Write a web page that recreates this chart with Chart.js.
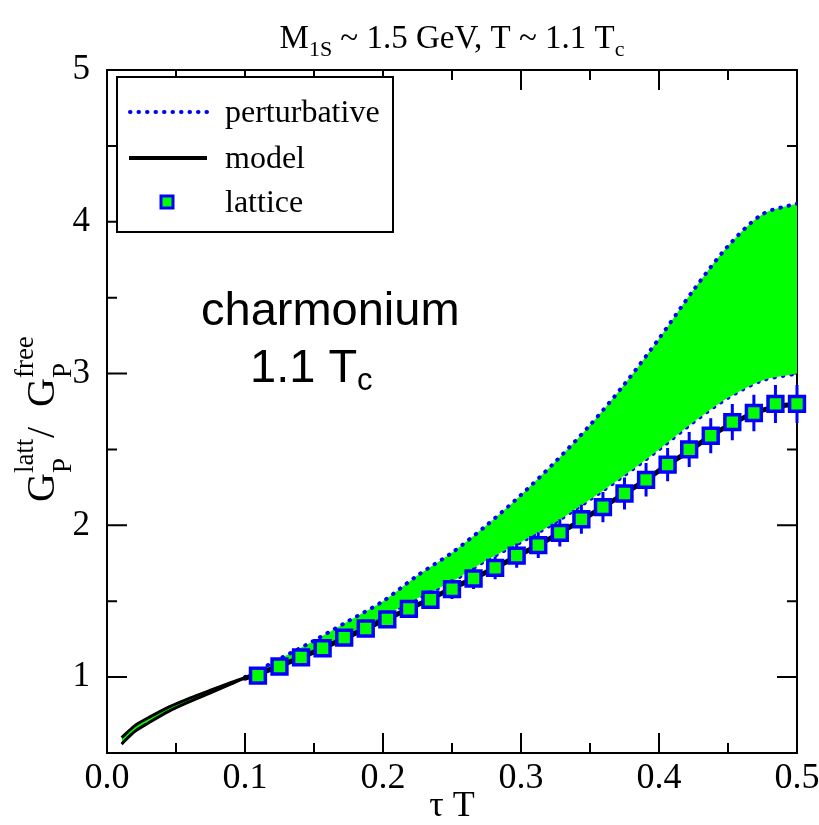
<!DOCTYPE html>
<html>
<head>
<meta charset="utf-8">
<script src="https://cdn.jsdelivr.net/npm/chart.js@4.4.1/dist/chart.umd.min.js"></script>
<style>
  html, body { margin: 0; padding: 0; background: #fff; }
</style>
</head>
<body>
<canvas id="myChart" width="819" height="825"></canvas>
<script>
// perturbative band (upper / lower edge)
const pertTau = [0.0106, 0.02, 0.03, 0.045, 0.06, 0.075, 0.09, 0.1, 0.125, 0.15, 0.175, 0.2, 0.225, 0.25,
                 0.275, 0.3, 0.325, 0.35, 0.375, 0.4, 0.425, 0.45, 0.475, 0.5];
const pertUpper = [0.601, 0.679, 0.732, 0.804, 0.861, 0.9135, 0.965, 1.0, 1.12, 1.24, 1.37, 1.50, 1.67, 1.82,
                   2.00, 2.20, 2.42, 2.66, 2.93, 3.23, 3.55, 3.84, 4.05, 4.12];
const pertLower = [0.559, 0.641, 0.698, 0.776, 0.839, 0.8965, 0.955, 0.99, 1.085, 1.175, 1.285, 1.40, 1.52, 1.63,
                   1.77, 1.89, 2.02, 2.17, 2.33, 2.50, 2.68, 2.84, 2.955, 3.00];

// lattice data
const latTau = [0.109375, 0.125, 0.140625, 0.15625, 0.171875, 0.1875, 0.203125, 0.21875, 0.234375, 0.25,
                0.265625, 0.28125, 0.296875, 0.3125, 0.328125, 0.34375, 0.359375, 0.375, 0.390625, 0.40625,
                0.421875, 0.4375, 0.453125, 0.46875, 0.484375, 0.5];
const latVal = [1.01, 1.07, 1.13, 1.19, 1.26, 1.32, 1.38, 1.45, 1.51, 1.58, 1.65, 1.72, 1.80, 1.87, 1.95,
                2.04, 2.12, 2.21, 2.30, 2.40, 2.50, 2.59, 2.68, 2.74, 2.80, 2.80];
const latErr = [0.02, 0.025, 0.03, 0.035, 0.04, 0.045, 0.05, 0.055, 0.06, 0.065, 0.07, 0.075, 0.08, 0.085,
                0.09, 0.095, 0.10, 0.105, 0.11, 0.11, 0.115, 0.115, 0.12, 0.12, 0.125, 0.125];

// model curve (small tau part is a thin band)
const modelUpTau = [0.0106, 0.02, 0.03, 0.045, 0.06, 0.075, 0.09, 0.1];
const modelUp = [0.601, 0.679, 0.732, 0.804, 0.861, 0.9135, 0.965, 0.997];
const modelTau = [0.0106, 0.02, 0.03, 0.045, 0.06, 0.075, 0.09, 0.1].concat(latTau);
const modelVal = [0.559, 0.641, 0.698, 0.776, 0.839, 0.8965, 0.955, 0.993,
                  1.02, 1.075, 1.13, 1.19, 1.255, 1.32, 1.385, 1.45, 1.515, 1.585, 1.65, 1.72, 1.795, 1.87,
                  1.95, 2.035, 2.12, 2.21, 2.30, 2.40, 2.49, 2.59, 2.67, 2.74, 2.78, 2.80];

const xTicks = [0, 0.1, 0.2, 0.3, 0.4, 0.5];
const yTicks = [1, 2, 3, 4, 5];

const pts = (xs, ys) => xs.map((x, i) => ({ x: x, y: ys[i] }));

const BLUE = '#0000ff';
const GREEN = '#00ff00';
const SERIF = '"Liberation Serif", "DejaVu Serif", serif';
const SANS = '"Liberation Sans", Arial, sans-serif';
const DOTS = [0.5, 8];

// draws text made of pieces: [text, size, dy, noAdvance]
function drawPieces(ctx, pieces, x, y, family) {
  pieces.forEach(p => {
    ctx.font = p[1] + 'px ' + family;
    ctx.fillText(p[0], x, y + p[2]);
    if (!p[3]) x += ctx.measureText(p[0]).width;
  });
  return x;
}
function piecesWidth(ctx, pieces, family) {
  let w = 0;
  pieces.forEach(p => {
    ctx.font = p[1] + 'px ' + family;
    if (!p[3]) w += ctx.measureText(p[0]).width;
  });
  return w;
}

const framePlugin = {
  id: 'frame',
  beforeDatasetsDraw(chart) {
    const ctx = chart.ctx, a = chart.chartArea;
    const xs = chart.scales.x, ys = chart.scales.y;
    ctx.save();
    ctx.strokeStyle = '#000';
    ctx.lineWidth = 2;
    ctx.strokeRect(a.left, a.top, a.right - a.left, a.bottom - a.top);
    ctx.beginPath();
    for (let i = 1; i < 10; i++) {
      const px = xs.getPixelForValue(i * 0.05);
      const len = i % 2 === 0 ? 20 : 10;
      ctx.moveTo(px, a.bottom); ctx.lineTo(px, a.bottom - len);
      ctx.moveTo(px, a.top); ctx.lineTo(px, a.top + len);
    }
    for (let i = 2; i < 10; i++) {
      const py = ys.getPixelForValue(i * 0.5);
      const len = i % 2 === 0 ? 20 : 10;
      ctx.moveTo(a.left, py); ctx.lineTo(a.left + len, py);
      ctx.moveTo(a.right, py); ctx.lineTo(a.right - len, py);
    }
    ctx.stroke();
    ctx.restore();
  },
  beforeDatasetDraw(chart, args) {
    if (args.index !== 4) return;
    // error bars under the lattice squares
    const ctx = chart.ctx;
    const xs = chart.scales.x, ys = chart.scales.y;
    ctx.save();
    ctx.strokeStyle = BLUE;
    ctx.lineWidth = 3;
    ctx.beginPath();
    latTau.forEach((t, i) => {
      const px = xs.getPixelForValue(t);
      ctx.moveTo(px, ys.getPixelForValue(latVal[i] - latErr[i]));
      ctx.lineTo(px, ys.getPixelForValue(latVal[i] + latErr[i]));
    });
    ctx.stroke();
    ctx.restore();
  },
  afterDraw(chart) {
    const ctx = chart.ctx, a = chart.chartArea;
    const cx = (a.left + a.right) / 2;
    ctx.save();
    ctx.fillStyle = '#000';
    ctx.textBaseline = 'alphabetic';
    ctx.textAlign = 'left';

    // title
    const title = [['M', 33, 0], ['1S', 22, 8], [' ~ 1.5 GeV, T ~ 1.1 T', 33, 0], ['c', 22, 8]];
    drawPieces(ctx, title, cx - piecesWidth(ctx, title, SERIF) / 2, 48, SERIF);

    // x axis title
    ctx.font = '36px ' + SERIF;
    ctx.textAlign = 'center';
    ctx.fillText('\u03c4 T', cx, 816);
    ctx.textAlign = 'left';

    // y axis title (rotated)
    ctx.save();
    ctx.translate(54, 502);
    ctx.rotate(-Math.PI / 2);
    const ylab = [['G', 40, 0], ['latt', 27, -21, true], ['P', 27, 17], ['  /  ', 40, 0],
                  ['G', 40, 0], ['free', 27, -21, true], ['P', 27, 17]];
    drawPieces(ctx, ylab, 0, 0, SERIF);
    ctx.restore();

    // annotation
    ctx.font = '47px ' + SANS;
    ctx.fillText('charmonium', 201, 325);
    drawPieces(ctx, [['1.1 T', 47, 0], ['c', 31, 8]], 250, 382, SANS);

    // legend
    const lx = a.left + 10, ly = a.top + 7, lw = 276, lh = 155;
    ctx.fillStyle = '#fff';
    ctx.fillRect(lx, ly, lw, lh);
    ctx.strokeStyle = '#000';
    ctx.lineWidth = 2;
    ctx.strokeRect(lx, ly, lw, lh);
    const rows = [35, 81, 125];
    ctx.lineCap = 'round';
    ctx.setLineDash(DOTS);
    ctx.strokeStyle = BLUE;
    ctx.lineWidth = 4;
    ctx.beginPath(); ctx.moveTo(lx + 13, ly + rows[0]); ctx.lineTo(lx + 92, ly + rows[0]); ctx.stroke();
    ctx.setLineDash([]);
    ctx.lineCap = 'butt';
    ctx.strokeStyle = '#000';
    ctx.lineWidth = 4;
    ctx.beginPath(); ctx.moveTo(lx + 12, ly + rows[1]); ctx.lineTo(lx + 90, ly + rows[1]); ctx.stroke();
    ctx.fillStyle = GREEN;
    ctx.strokeStyle = BLUE;
    ctx.lineWidth = 3;
    ctx.fillRect(lx + 44, ly + rows[2] - 6, 12, 12);
    ctx.strokeRect(lx + 44, ly + rows[2] - 6, 12, 12);
    ctx.fillStyle = '#000';
    ctx.font = '32px ' + SERIF;
    ctx.fillText('perturbative', lx + 108, ly + rows[0] + 10);
    ctx.fillText('model', lx + 108, ly + rows[1] + 10);
    ctx.fillText('lattice', lx + 108, ly + rows[2] + 10);
    ctx.restore();
  }
};

// dotted blue edges, hidden under the model band at small tau
const dotted = {
  showLine: true,
  borderColor: BLUE,
  borderWidth: 4,
  borderDash: DOTS,
  borderCapStyle: 'round',
  pointRadius: 0,
  tension: 0.3,
  segment: { borderColor: c => c.p1.parsed.x <= 0.1 ? 'rgba(0,0,0,0)' : BLUE },
  order: 2
};

new Chart(document.getElementById('myChart'), {
  type: 'scatter',
  data: {
    datasets: [Object.assign({
      label: 'perturbative',
      data: pts(pertTau, pertUpper),
      backgroundColor: GREEN,
      fill: '+1'
    }, dotted), Object.assign({
      label: 'perturbative lower',
      data: pts(pertTau, pertLower),
      fill: false
    }, dotted), {
      label: 'model upper',
      data: pts(modelUpTau, modelUp),
      showLine: true,
      borderColor: '#000',
      borderWidth: 3,
      pointRadius: 0,
      tension: 0.3,
      fill: false,
      order: 1
    }, {
      label: 'model',
      data: pts(modelTau, modelVal),
      showLine: true,
      borderColor: '#000',
      borderWidth: 5,
      segment: { borderWidth: c => c.p1.parsed.x <= 0.1 ? 3 : 5 },
      pointRadius: 0,
      tension: 0.3,
      fill: false,
      order: 1
    }, {
      label: 'lattice',
      data: pts(latTau, latVal),
      showLine: false,
      pointStyle: 'rect',
      pointRadius: 10.5,
      pointBorderWidth: 3.5,
      pointBorderColor: BLUE,
      pointBackgroundColor: GREEN,
      clip: false,
      order: 0
    }]
  },
  options: {
    responsive: false,
    animation: false,
    layout: { padding: { top: 70, right: 22, left: 0, bottom: 0 } },
    plugins: { legend: { display: false }, tooltip: { enabled: false } },
    scales: {
      x: {
        type: 'linear',
        min: 0, max: 0.5,
        afterFit(s) { s.height = 72; },
        afterBuildTicks(s) { s.ticks = xTicks.map(v => ({ value: v })); },
        grid: { display: false },
        border: { display: false },
        ticks: {
          padding: -4,
          color: '#000',
          font: { family: SERIF, size: 36 },
          callback: v => v.toFixed(1)
        }
      },
      y: {
        type: 'linear',
        min: 0.5, max: 5,
        afterFit(s) { s.width = 107; },
        afterBuildTicks(s) { s.ticks = yTicks.map(v => ({ value: v })); },
        grid: { display: false },
        border: { display: false },
        ticks: {
          padding: 9,
          color: '#000',
          font: { family: SERIF, size: 35 },
          callback: v => String(v)
        }
      }
    }
  },
  plugins: [framePlugin]
});
</script>
</body>
</html>
